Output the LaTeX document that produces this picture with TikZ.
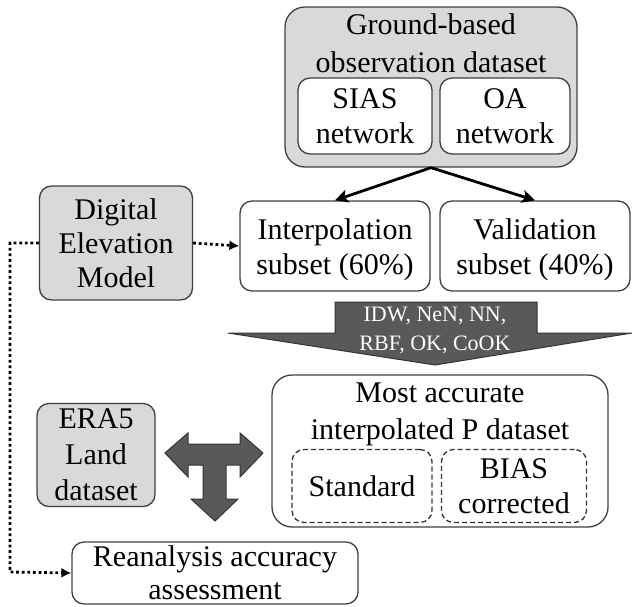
\documentclass[tikz,border=0pt]{standalone}
\usepackage{fontspec}
\setmainfont{Liberation Serif}
\usetikzlibrary{arrows.meta}

\begin{document}
\begin{tikzpicture}[x=1pt, y=-1pt,
		box/.style={draw=black!75, line width=1.3pt, rounded corners=12pt, fill=white, align=center, inner sep=0pt, font=\fontsize{30}{35}\selectfont},
		graybox/.style={box, fill=black!15},
		dashbox/.style={box, draw=black!80, dash pattern=on 5pt off 3pt},
		title/.style={align=center, inner sep=0pt, font=\fontsize{30}{37}\selectfont},
		flow/.style={line width=2.8pt, -{Stealth[length=13pt, width=13pt, inset=3pt]}},
		dots/.style={line width=2.8pt, dash pattern=on 2.8pt off 2.8pt, -{Latex[length=10pt, width=10pt]}},
		fat/.style={fill=black!65, draw=black!80, line width=1pt, line join=miter}]
			\useasboundingbox (0,0) rectangle (635,606);

			% observation data
			\node[graybox, rounded corners=20pt, minimum width=292, minimum height=160] (ground) at (431,87) {};
			\node[title, font=\fontsize{30}{38}\selectfont] (groundtxt) at (431,43) {Ground-based\\observation dataset};
			\node[box, minimum width=134, minimum height=76] (sias) at (365,116) {SIAS\\network};
			\node[box, minimum width=130, minimum height=76] (oa) at (505,116) {OA\\network};

			\node[box, minimum width=190, minimum height=90] (interp) at (335,246) {};
			\node[title, font=\fontsize{30}{35}\selectfont] (interptxt) at (335,250) {Interpolation\\subset (60\%)};
			\node[box, minimum width=190, minimum height=90] (valid) at (535,246) {};
			\node[title, font=\fontsize{30}{35}\selectfont] (validtxt) at (535,250) {Validation\\subset (40\%)};
			\node[graybox, minimum width=153, minimum height=114, font=\fontsize{30}{34}\selectfont] (dem) at (116,243) {Digital\\Elevation\\Model};

			\draw[flow] (ground.south) -- (interp.north);
			\draw[flow] (ground.south) -- (valid.north);

			% methods arrow
			\draw[fat] (335,302) -- (537,302) -- (537,333) -- (632,333) -- (435,365) -- (228,333) -- (335,333) -- cycle;
			\node[align=center, inner sep=0pt, text=white, font=\fontsize{22}{29}\selectfont] (methods) at (435,330) {IDW, NeN, NN,\\RBF, OK, CoOK};

			% results
			\node[box, rounded corners=20pt, minimum width=336, minimum height=152] (best) at (440,451) {};
			\node[title] (besttxt) at (440,414) {Most accurate\\interpolated P dataset};
			\node[dashbox, minimum width=140, minimum height=73] (std) at (362,486) {Standard};
			\node[dashbox, minimum width=145, minimum height=73] (bias) at (514,486) {BIAS\\corrected};

			\node[graybox, minimum width=118, minimum height=103, font=\fontsize{30}{36}\selectfont] (era) at (96,455) {ERA5\\Land\\dataset};
			\draw[fat] (165,453) -- (188,433) -- (188,444) -- (240,444) -- (240,433) -- (263,453) -- (240,477) -- (240,465)
				-- (226,465) -- (226,499) -- (238,499) -- (215,521) -- (191,499) -- (203,499) -- (203,465) -- (188,465) -- (188,477) -- cycle;

			\node[box, minimum width=286, minimum height=62] (reana) at (215,573) {};
			\node[title, font=\fontsize{30}{33}\selectfont] (reanatxt) at (215,573) {Reanalysis accuracy\\assessment};

			% dotted links
			\coordinate (bend) at (10,572);
			\draw[dots] (dem.east) -- (interp.west);
			\draw[dots] (dem.west) -| (bend) -- (reana.west);
		\end{tikzpicture}
\end{document}
